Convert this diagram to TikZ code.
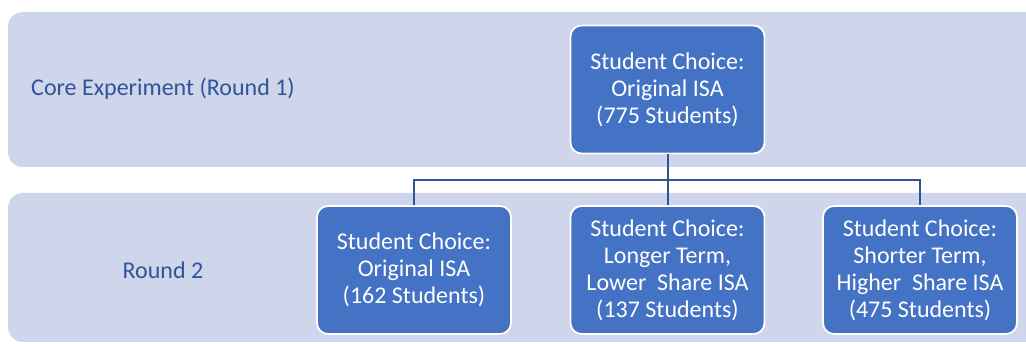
\documentclass[tikz,border=0pt]{standalone}
\usepackage{fontspec}
\setmainfont{Carlito}
\definecolor{bandfill}{HTML}{CFD5EA}
\definecolor{boxfill}{HTML}{4472C4}
\definecolor{linecol}{HTML}{2F5597}
\definecolor{labelcol}{HTML}{2F5597}
\begin{document}
\begin{tikzpicture}[x=1pt,y=-1pt,
  band/.style={fill=bandfill, draw=none, rounded corners=15pt},
  choicebox/.style={rectangle, fill=boxfill, draw=white, line width=1.8pt, rounded corners=11pt,
    minimum width=194pt, minimum height=128pt, text=white, align=center,
    font=\fontsize{24}{27}\selectfont, inner sep=0pt},
  bandlabel/.style={text=labelcol, font=\fontsize{24}{27}\selectfont, anchor=center},
  conn/.style={draw=linecol, line width=2pt}]
\useasboundingbox (0,0) rectangle (1026,344);
\clip (0,0) rectangle (1026,344);
\path[band] (8,12) rectangle (1050,167);
\path[band] (8,193) rectangle (1050,342);
\node[bandlabel] (l1) at (163,89) {Core Experiment (Round 1)};
\node[bandlabel] (l2) at (163,270) {Round 2};
\node[choicebox] (top) at (667.5,89.5) {Student Choice:\\Original ISA\\(775 Students)};
\node[choicebox] (b1) at (414,270) {Student Choice:\\Original ISA\\(162 Students)};
\node[choicebox] (b2) at (667.5,270) {Student Choice:\\Longer Term,\\Lower\ \ Share ISA\\(137 Students)};
\node[choicebox] (b3) at (920,270) {Student Choice:\\Shorter Term,\\Higher\ \ Share ISA\\(475 Students)};
\coordinate (bus) at (0,180);
\draw[conn] (top.south) -- (top.south |- bus);
\draw[conn] (b1.north) -- (b1.north |- bus) -- (b3.north |- bus) -- (b3.north);
\draw[conn] (b2.north) -- (b2.north |- bus);
\end{tikzpicture}
\end{document}
